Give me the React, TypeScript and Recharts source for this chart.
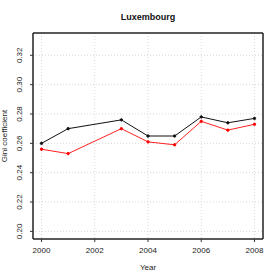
import React from 'react'
import { LineChart, Line, XAxis, YAxis, CartesianGrid } from 'recharts'

const years = [2000, 2001, 2003, 2004, 2005, 2006, 2007, 2008]
const giniBlack = [0.26, 0.27, 0.276, 0.265, 0.265, 0.278, 0.274, 0.277]
const giniRed = [0.256, 0.253, 0.27, 0.261, 0.259, 0.275, 0.269, 0.273]
const xTicks = [2000, 2002, 2004, 2006, 2008]
const yTicks = [0.2, 0.22, 0.24, 0.26, 0.28, 0.3, 0.32]

const data = years.map((year, i) => ({ year, black: giniBlack[i], red: giniRed[i] }))

const X_MIN = 1999.68
const X_MAX = 2008.32
const Y_MIN = 0.1948
const Y_MAX = 0.3352

const FONT = 'Liberation Sans, Arial, sans-serif'
const boxLine = { stroke: '#222', strokeWidth: 1.5 }

const YTick = (props: any) => {
  const { x, y, payload } = props
  return (
    <text
      x={x - 6}
      y={y}
      transform={`rotate(-90 ${x - 6} ${y})`}
      textAnchor="middle"
      fontSize={8}
      fontFamily={FONT}
      fill="#222"
    >
      {payload.value.toFixed(2)}
    </text>
  )
}

const XTick = (props: any) => {
  const { x, y, payload } = props
  return (
    <text x={x} y={y + 9} textAnchor="middle" fontSize={8} fontFamily={FONT} fill="#222">
      {payload.value}
    </text>
  )
}

const App: React.FC = () => {
  return (
    <div style={{ position: 'absolute', left: 0, top: 0, width: 280, height: 280, background: '#fff' }}>
      <LineChart width={280} height={280} data={data} margin={{ top: 32, right: 16, bottom: 0, left: 8 }}>
        <CartesianGrid stroke="#d8d8d8" strokeDasharray="1 2" horizontalValues={yTicks} verticalValues={xTicks} />
        <XAxis
          dataKey="year"
          type="number"
          domain={[X_MIN, X_MAX]}
          ticks={xTicks}
          allowDataOverflow
          axisLine={boxLine}
          tickLine={{ stroke: '#333' }}
          tickSize={3}
          tick={<XTick />}
          height={41}
        />
        <XAxis
          xAxisId="top"
          orientation="top"
          dataKey="year"
          type="number"
          domain={[X_MIN, X_MAX]}
          ticks={xTicks}
          allowDataOverflow
          axisLine={boxLine}
          tick={false}
          tickLine={false}
          height={1}
        />
        <YAxis
          type="number"
          domain={[Y_MIN, Y_MAX]}
          ticks={yTicks}
          allowDataOverflow
          axisLine={boxLine}
          tickLine={{ stroke: '#333' }}
          tickSize={3}
          tick={<YTick />}
          width={25}
        />
        <YAxis
          yAxisId="right"
          orientation="right"
          type="number"
          domain={[Y_MIN, Y_MAX]}
          ticks={yTicks}
          allowDataOverflow
          axisLine={boxLine}
          tick={false}
          tickLine={false}
          width={1}
        />
        <Line
          dataKey="black"
          stroke="#111"
          strokeWidth={1}
          dot={{ r: 1.2, fill: '#111', stroke: '#111' }}
          isAnimationActive={false}
        />
        <Line
          xAxisId="top"
          yAxisId="right"
          dataKey="red"
          stroke="#ff2020"
          strokeWidth={1}
          dot={{ r: 1.2, fill: '#ff0000', stroke: '#ff0000' }}
          isAnimationActive={false}
        />
        <text x={148} y={20} textAnchor="middle" fontSize={9} fontWeight="bold" fontFamily={FONT} fill="#111">
          Luxembourg
        </text>
        <text x={148} y={270} textAnchor="middle" fontSize={8} fontFamily={FONT} fill="#222">
          Year
        </text>
        <text x={7} y={136} transform="rotate(-90 7 136)" textAnchor="middle" fontSize={8} fontFamily={FONT} fill="#222">
          Gini coefficient
        </text>
      </LineChart>
    </div>
  )
}

export default App
